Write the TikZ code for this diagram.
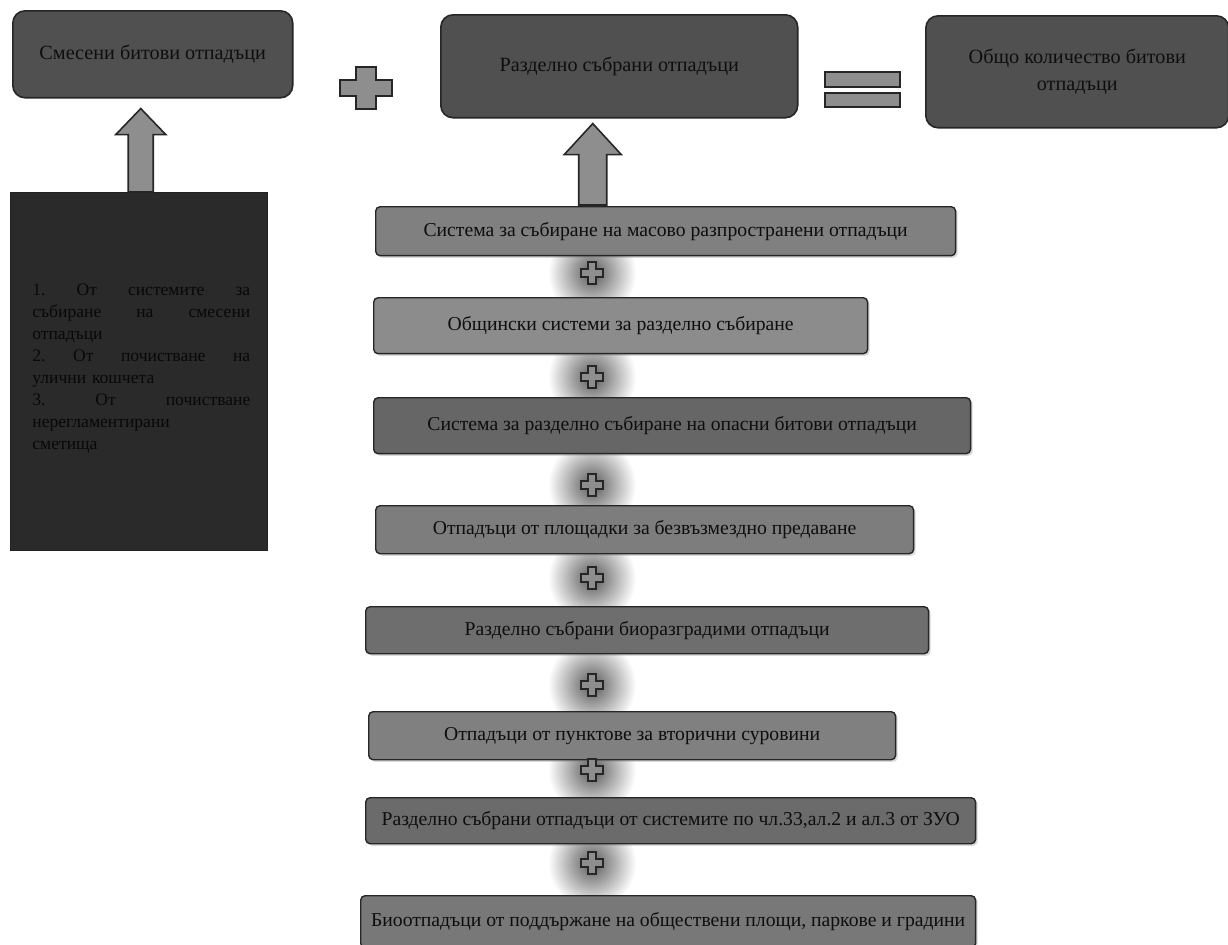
\documentclass[tikz,border=0pt]{standalone}
\usepackage{fontspec}
\setmainfont{Liberation Serif}
\usetikzlibrary{
positioning,%
calc,%
shadows
}
\definecolor{topgray}{HTML}{505050}
\definecolor{listgray}{HTML}{2A2A2A}
\definecolor{arrgray}{HTML}{8E8E8E}
\definecolor{edgegray}{HTML}{262626}
\definecolor{inkgray}{HTML}{0E0E0E}
\tikzset{
    topbox/.style={draw=edgegray, fill=topgray, rounded corners=7pt, line width=0.9pt, anchor=north west, inner sep=2pt, align=center, text=inkgray, font=\fontsize{11.5}{15}\selectfont},
    listbox/.style={draw=listgray!80!black, fill=listgray, anchor=north west, inner sep=0pt},
    listtext/.style={anchor=north west, inner sep=0pt, text width=4.36cm, align=left, text=black!97, font=\fontsize{10}{12.5}\selectfont},
    stackbox/.style={draw=edgegray, line width=0.8pt, rounded corners=2.5pt, anchor=north west, inner sep=0pt, text=inkgray, font=\fontsize{11.2}{13}\selectfont, drop shadow={shadow xshift=1.2pt, shadow yshift=-1.2pt, opacity=0.3}},
    blockarr/.style={draw=edgegray, fill=arrgray, line width=0.9pt, line join=miter},
    crossfill/.style={draw=edgegray, fill=arrgray, line width=1.1pt},
    glow/.style={inner color=black!65, outer color=white},
    cross/.pic={
        \draw[crossfill] (-4,-11) -- (4,-11) -- (4,-4) -- (11,-4) -- (11,4) -- (4,4) -- (4,11) -- (-4,11) -- (-4,4) -- (-11,4) -- (-11,-4) -- (-4,-4) -- cycle;
    }
}

\begin{document}
\begin{tikzpicture}[x=0.02cm, y=-0.02cm]
    \useasboundingbox (0,0) rectangle (1228,944);

    % top row
    \node[topbox, minimum width=5.6cm, minimum height=1.74cm] (mixed) at (12,10) {Смесени битови отпадъци};
    \node[topbox, minimum width=7.14cm, minimum height=2.06cm] (separ) at (440,14) {Разделно събрани отпадъци};
    \node[topbox, minimum width=6.06cm, minimum height=2.24cm] (total) at (925,15) {Общо количество битови\\отпадъци};
    \pic[xscale=2.4, yscale=1.95] at (366,88) {cross};
    \draw[crossfill] (825,72) rectangle (900,87);
    \draw[crossfill] (825,93) rectangle (900,107);

    % mixed waste sources
    \node[listbox, minimum width=5.14cm, minimum height=7.16cm] (leftbox) at (10,192) {};
    \node[listtext] (listtxt) at (32,284) {%
        1.\hfill От\hfill системите\hfill за\\
        събиране\hfill на\hfill смесени\\
        отпадъци\\
        2.\hfill От\hfill почистване\hfill на\\
        улични кошчета\\
        3.\hfill От\hfill почистване\\
        нерегламентирани\\
        сметища};

    % glows behind the plus signs
    \foreach \y in {273,377,485,578,685,770,863}
        \shade[glow] (592,\y) ellipse [x radius=44, y radius=46];

    % separately collected waste
    \node[stackbox, fill=black!50, minimum width=11.6cm, minimum height=0.98cm] (s1) at (375,206) {Система за събиране на масово разпространени отпадъци};
    \node[stackbox, fill=black!45, minimum width=9.88cm, minimum height=1.12cm] (s2) at (373,297) {Общински системи за разделно събиране};
    \node[stackbox, fill=black!60, minimum width=11.94cm, minimum height=1.12cm] (s3) at (373,397) {Система за разделно събиране на опасни битови отпадъци};
    \node[stackbox, fill=black!51, minimum width=10.76cm, minimum height=0.96cm] (s4) at (375,505) {Отпадъци от площадки за безвъзмездно предаване};
    \node[stackbox, fill=black!57, minimum width=11.26cm, minimum height=0.94cm] (s5) at (365,606) {Разделно събрани биоразградими отпадъци};
    \node[stackbox, fill=black!50, minimum width=10.54cm, minimum height=0.96cm] (s6) at (368,711) {Отпадъци от пунктове за вторични суровини};
    \node[stackbox, fill=black!58, minimum width=12.2cm, minimum height=0.92cm] (s7) at (365,797) {Разделно събрани отпадъци от системите по чл.33,ал.2 и ал.3 от ЗУО};
    \node[stackbox, fill=black!53, minimum width=12.3cm, minimum height=1.04cm] (s8) at (360,895) {Биоотпадъци от поддържане на обществени площи, паркове и градини};

    \foreach \y in {273,377,485,578,685,770,863}
        \pic at (592,\y) {cross};

    % block arrows
    \coordinate (tip1) at ($(mixed.south)+(-12,10)$);
    \draw[blockarr] (tip1) -- ++(25,26) -- ++(-12.5,0) -- ($(tip1 |- leftbox.north)+(12.5,0)$) -- ++(-25,0) -- ($(tip1)+(-12.5,26)$) -- ++(-12.5,0) -- cycle;
    \coordinate (tip2) at ($(separ.south)+(-26.5,5)$);
    \draw[blockarr] (tip2) -- ++(28.5,31) -- ++(-14.5,0) -- ($(tip2 |- s1.north)+(14,-1)$) -- ++(-28,0) -- ($(tip2)+(-14,31)$) -- ++(-14.5,0) -- cycle;
\end{tikzpicture}
\end{document}
